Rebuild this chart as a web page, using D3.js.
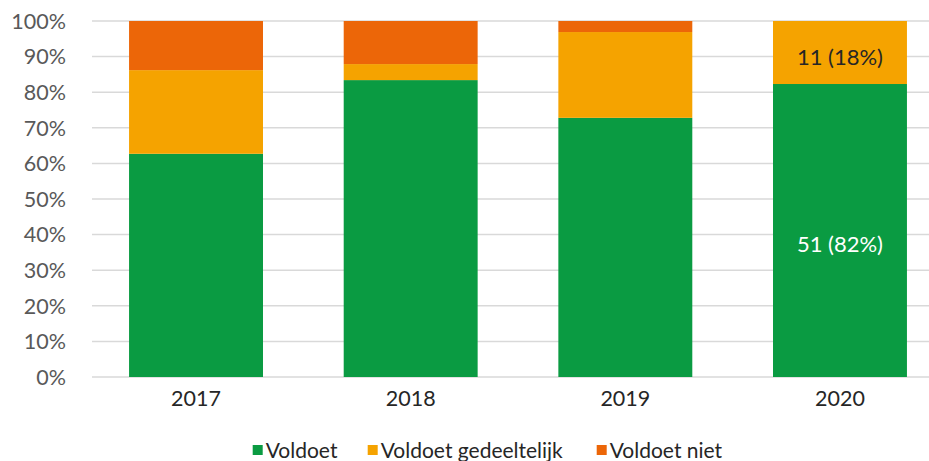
<!DOCTYPE html>
<html>
<head>
<meta charset="utf-8">
<script src="https://cdn.jsdelivr.net/npm/d3@7"></script>
<style>
  body { margin: 0; background: #fff; }
  text { font-family: Lato, "Open Sans", sans-serif; }
</style>
</head>
<body>
<div id="chart"></div>
<script>
// data (shares per year)
var years = ["2017", "2018", "2019", "2020"];
var voldoet = [62.7, 83.4, 72.8, 82.3];
var gedeeltelijk = [23.5, 4.5, 24.1, 17.7];
var niet = [13.8, 12.1, 3.1, 0];
var seriesNames = ["Voldoet", "Voldoet gedeeltelijk", "Voldoet niet"];
var seriesColors = ["#0a9b42", "#f5a300", "#ec6608"];
var yTicks = [0, 10, 20, 30, 40, 50, 60, 70, 80, 90, 100];
// only the 2020 bar carries labels
var labels2020 = ["51 (82%)", "11 (18%)", ""];

var width = 929, height = 461;

var svg = d3.select("#chart").append("svg")
  .attr("width", width)
  .attr("height", height);

var x = d3.scaleBand()
  .domain(years)
  .range([88.7, 947.3])
  .paddingInner(0.376)
  .paddingOuter(0.188);

var y = d3.scaleLinear().domain([0, 100]).range([377, 21]);

// gridlines
svg.append("g").selectAll("line")
  .data(yTicks)
  .enter().append("line")
  .attr("x1", 92).attr("x2", width)
  .attr("y1", function (d) { return y(d); })
  .attr("y2", function (d) { return y(d); })
  .attr("stroke", "#d9d9d9")
  .attr("stroke-width", 1.5);

// y labels
svg.append("g").selectAll("text")
  .data(yTicks)
  .enter().append("text")
  .attr("x", 66)
  .attr("y", function (d) { return y(d); })
  .attr("dy", "0.36em")
  .attr("text-anchor", "end")
  .attr("fill", "#595959")
  .style("font-size", "21.5px")
  .text(function (d) { return d + "%"; });

// stack the rows
var rows = years.map(function (yr, i) {
  return { year: yr, a: voldoet[i], b: gedeeltelijk[i], c: niet[i] };
});
var stack = d3.stack().keys(["a", "b", "c"]);
var layers = stack(rows);

var g = svg.append("g");
layers.forEach(function (layer, k) {
  g.append("g")
    .attr("fill", seriesColors[k])
    .selectAll("rect")
    .data(layer)
    .enter().append("rect")
    .attr("x", function (d) { return x(d.data.year); })
    .attr("width", x.bandwidth())
    .attr("y", function (d) { return y(d[1]); })
    .attr("height", function (d) { return y(d[0]) - y(d[1]); });
});

// labels on 2020
var labelShift = [14, 5, 0];
layers.forEach(function (layer, k) {
  var d = layer[3];
  if (!labels2020[k]) return;
  svg.append("text")
    .attr("x", x("2020") + x.bandwidth() / 2)
    .attr("y", (y(d[0]) + y(d[1])) / 2 + labelShift[k])
    .attr("dy", "0.36em")
    .attr("text-anchor", "middle")
    .attr("fill", k == 0 ? "#ffffff" : "#262626")
    .style("font-size", "22px")
    .text(labels2020[k]);
});

// x labels
svg.append("g").selectAll("text")
  .data(years)
  .enter().append("text")
  .attr("x", function (d) { return x(d) + x.bandwidth() / 2; })
  .attr("y", 406)
  .attr("text-anchor", "middle")
  .attr("fill", "#262626")
  .style("font-size", "21.5px")
  .text(function (d) { return d; });

// legend
var legendX = [252.7, 367.7, 596.7];
var leg = svg.append("g").selectAll("g")
  .data(seriesNames)
  .enter().append("g")
  .attr("transform", function (d, i) { return "translate(" + legendX[i] + ",0)"; });
leg.append("rect")
  .attr("x", 0).attr("y", 445)
  .attr("width", 10).attr("height", 10)
  .attr("fill", function (d, i) { return seriesColors[i]; });
leg.append("text")
  .attr("x", 13).attr("y", 458)
  .attr("fill", "#262626")
  .style("font-size", "21px")
  .text(function (d) { return d; });
</script>
</body>
</html>
